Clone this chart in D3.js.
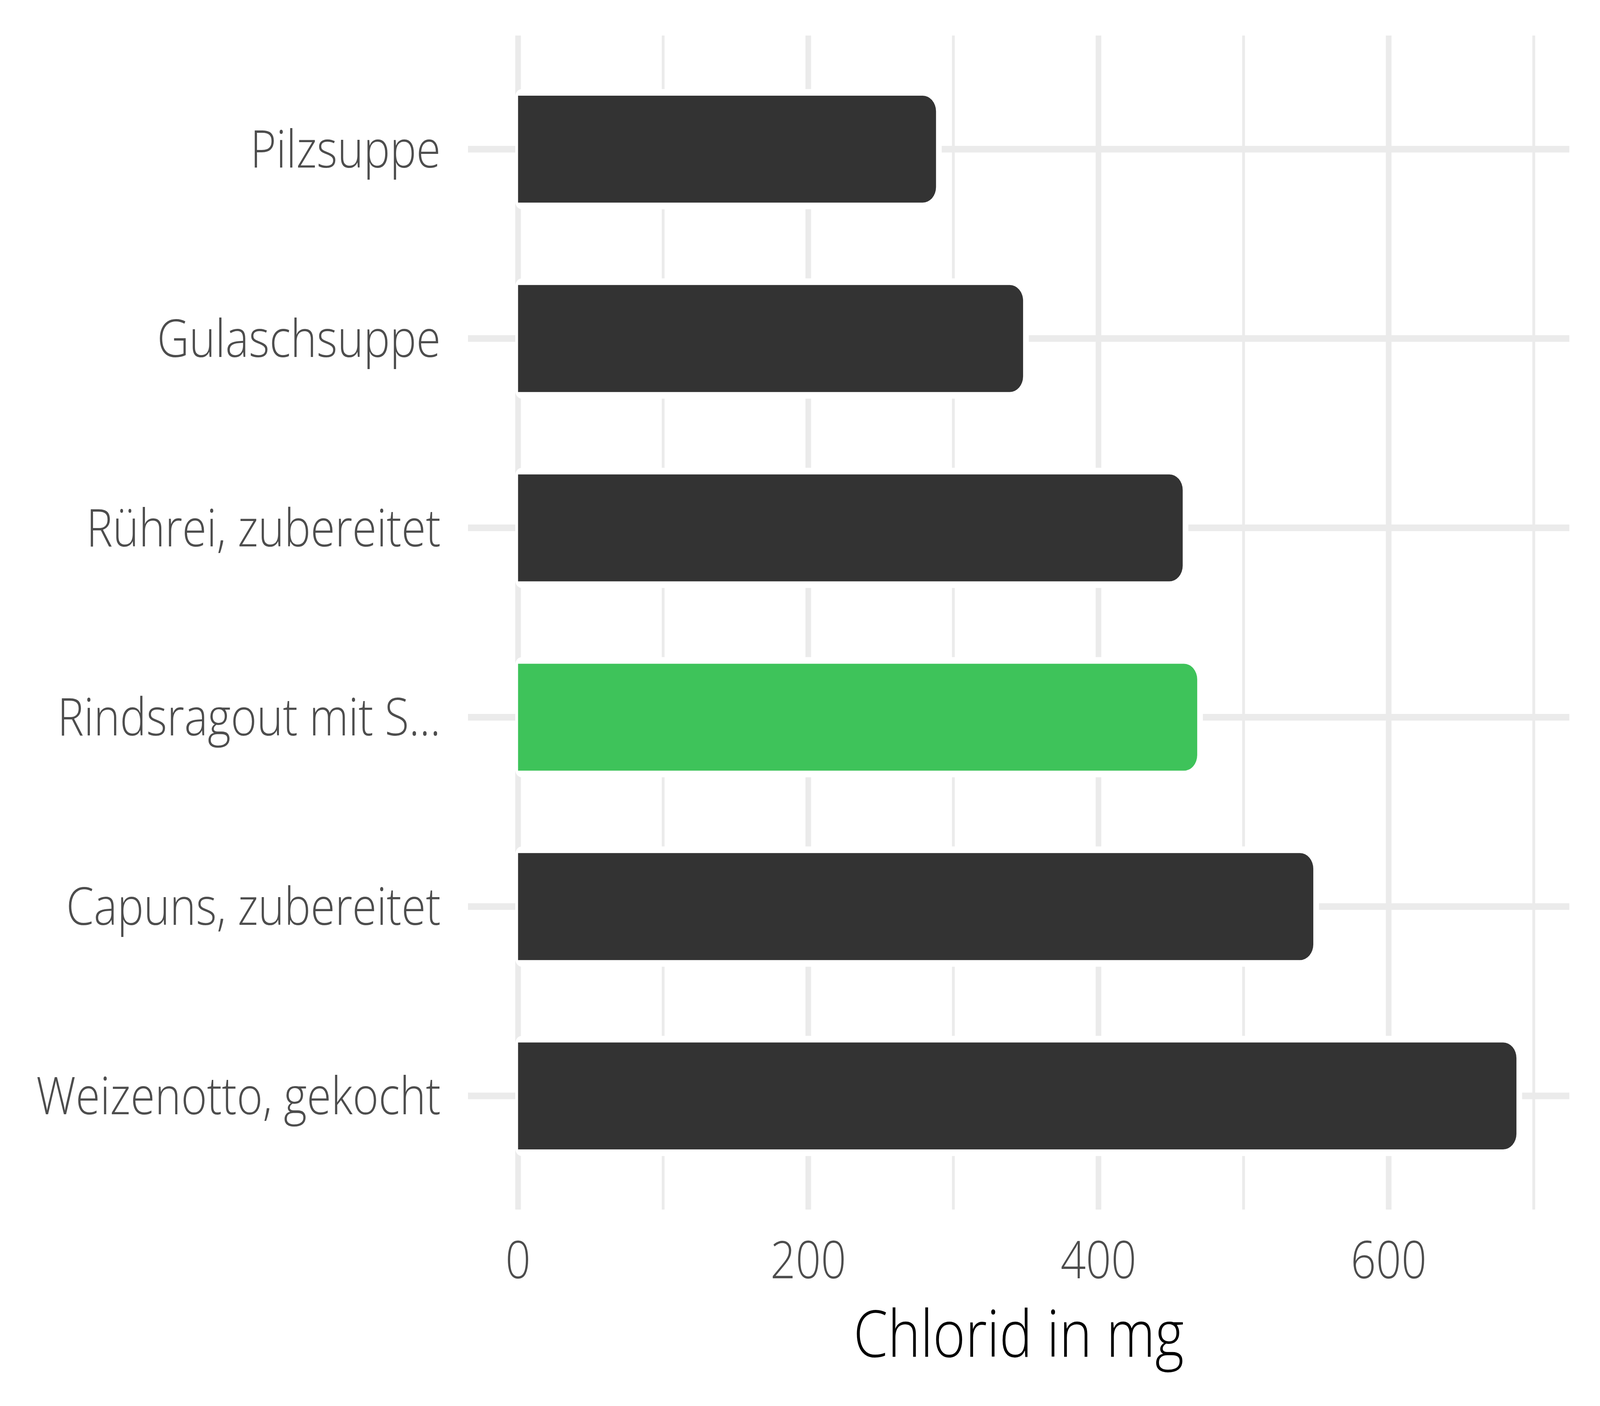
<!DOCTYPE html>
<html>
<head>
<meta charset="utf-8">
<script src="https://cdn.jsdelivr.net/npm/d3@7"></script>
<style>
    html, body { margin: 0; padding: 0; background: #fff; overflow: hidden; }
    svg { display: block; width: 100vw; height: 100vh; font-family: "Open Sans", sans-serif; }
</style>
</head>
<body>
<svg id="chart" viewBox="0 0 4800 3600" preserveAspectRatio="none"></svg>
<script>

const categories = ["Pilzsuppe", "Gulaschsuppe", "Rührei, zubereitet", "Rindsragout mit S...", "Capuns, zubereitet", "Weizenotto, gekocht"];
const values = [290, 350, 460, 470, 550, 690];
const highlight = ["Rindsragout mit S..."];
const xTicks = [0, 200, 400, 600];
const xMinorTicks = [100, 300, 500, 700];
const xTitle = "Chlorid in mg";

const data = categories.map((c, i) => ({ name: c, value: values[i] }));

let svg = d3.select("#chart");

let panel = { left: 1404, right: 4708, top: 91, bottom: 3097 };

// ggplot style expansion: 5% of the data range
let maxVal = d3.max(values),
    pad = maxVal * 0.05;

let x = d3.scaleLinear()
    .domain([-pad, maxVal + pad])
    .range([panel.left, panel.right]);

let y = d3.scaleBand()
    .domain(categories)
    .range([panel.top, panel.bottom])
    .paddingInner(0.4)
    .paddingOuter(0.3);

let grid = svg.append("g").attr("id", "grid");

grid.selectAll("line.minor")
    .data(xMinorTicks)
    .enter()
    .append("line")
        .attr("x1", d => x(d))
        .attr("x2", d => x(d))
        .attr("y1", panel.top)
        .attr("y2", panel.bottom)
        .attr("stroke", "#ebebeb")
        .attr("stroke-width", 8.5);

grid.selectAll("line.major")
    .data(xTicks)
    .enter()
    .append("line")
        .attr("x1", d => x(d))
        .attr("x2", d => x(d))
        .attr("y1", panel.top)
        .attr("y2", panel.bottom)
        .attr("stroke", "#ebebeb")
        .attr("stroke-width", 17);

grid.selectAll("line.hmajor")
    .data(categories)
    .enter()
    .append("line")
        .attr("x1", panel.left)
        .attr("x2", panel.right)
        .attr("y1", d => y(d) + y.bandwidth() / 2)
        .attr("y2", d => y(d) + y.bandwidth() / 2)
        .attr("stroke", "#ebebeb")
        .attr("stroke-width", 17);

// rectangle with separate left / right corner radii
let roundRect = (x0, y0, x1, y1, rl, rr) => {
    let p = d3.path();
    p.moveTo(x0 + rl, y0);
    p.lineTo(x1 - rr, y0);
    p.arcTo(x1, y0, x1, y0 + rr, rr);
    p.lineTo(x1, y1 - rr);
    p.arcTo(x1, y1, x1 - rr, y1, rr);
    p.lineTo(x0 + rl, y1);
    if (rl > 0) p.arcTo(x0, y1, x0, y1 - rl, rl);
    p.lineTo(x0, y0 + rl);
    if (rl > 0) p.arcTo(x0, y0, x0 + rl, y0, rl);
    p.closePath();
    return p.toString();
};

let halfStroke = 8.5;

let bars = svg.append("g").attr("id", "bars")
    .selectAll("g.bar")
    .data(data)
    .enter()
    .append("g")
        .classed("bar", true);

// white outline round each bar
bars.append("path")
    .attr("d", d => roundRect(
        x(0) - halfStroke, y(d.name) - halfStroke,
        x(d.value) + halfStroke, y(d.name) + y.bandwidth() + halfStroke,
        20, 48))
    .attr("fill", "#ffffff");

bars.append("path")
    .attr("d", d => roundRect(
        x(0), y(d.name) + halfStroke,
        x(d.value) - halfStroke, y(d.name) + y.bandwidth() - halfStroke,
        0, 40))
    .attr("fill", d => highlight.includes(d.name) ? "#3ec35a" : "#333333");

// category labels
svg.append("g")
    .selectAll("text")
    .data(categories)
    .enter()
    .append("text")
        .attr("x", 1322)
        .attr("y", d => y(d) + y.bandwidth() / 2 + 47)
        .attr("text-anchor", "end")
        .attr("font-size", 133)
        .attr("font-weight", 300)
        .attr("fill", "#4d4d4d")
        .text(d => d);

// x tick labels
svg.append("g")
    .selectAll("text")
    .data(xTicks)
    .enter()
    .append("text")
        .attr("x", d => x(d))
        .attr("y", 3273)
        .attr("text-anchor", "middle")
        .attr("font-size", 133)
        .attr("font-weight", 300)
        .attr("fill", "#4d4d4d")
        .text(d => d);

svg.append("text")
    .attr("x", (panel.left + panel.right) / 2)
    .attr("y", 3474)
    .attr("text-anchor", "middle")
    .attr("font-size", 166)
    .attr("font-weight", 300)
    .attr("fill", "#000000")
    .text(xTitle);

</script>
</body>
</html>
